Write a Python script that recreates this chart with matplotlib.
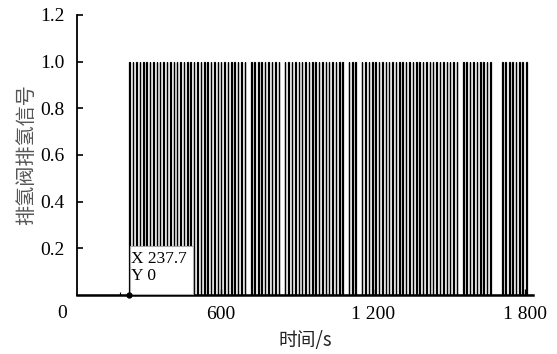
import numpy as np
import matplotlib
matplotlib.use("Agg")
import matplotlib.pyplot as plt
from matplotlib.patches import Rectangle
from matplotlib.ticker import FixedLocator

# ---- data: rising-edge times (s) of purge pulses ----
seg_a = [237.7, 251, 264, 278, 291, 304, 318, 331, 345, 358, 371, 385, 398, 412,
         425, 438, 452, 465, 479, 492, 505, 519, 532, 546, 559, 572, 586, 599,
         613, 626, 639, 653, 666, 680, 694]
seg_b = [719, 732, 746, 759, 773, 786, 800, 813, 827]
seg_c = [852, 865, 879, 892, 906, 919, 932, 946, 959, 973, 986, 999, 1013,
         1026, 1040, 1053, 1066, 1079]
seg_d = [1104, 1117, 1131]
seg_e = [1156, 1169, 1183, 1196, 1209, 1223, 1236, 1250, 1263, 1276, 1290,
         1303, 1317, 1330, 1343, 1357, 1370, 1384, 1397, 1410, 1424, 1437,
         1451, 1464, 1477, 1491, 1504, 1518, 1531]
seg_f = [1556, 1569, 1583, 1596, 1610, 1623, 1636, 1650, 1663]
seg_g = [1711, 1724, 1738, 1751, 1765, 1778, 1791, 1805]
pulse_width = 2.5          # s
signal_high = 1.0
t_start, t_end = 0, 1840

y_ticks = [0.2, 0.4, 0.6, 0.8, 1.0, 1.2]
y_tick_labels = ["0.2", "0.4", "0.6", "0.8", "1.0", "1.2"]
x_ticks = [600, 1200, 1800]
x_tick_labels = ["600", "1 200", "1 800"]
x_minor = [200, 400, 800, 1000, 1400, 1600]
tip_x, tip_y = 237.7, 0

rises = seg_a + seg_b + seg_c + seg_d + seg_e + seg_f + seg_g

# build step signal
t = [t_start]
y = [0]
for r in rises:
    t += [r, r, r + pulse_width, r + pulse_width]
    y += [0, signal_high, signal_high, 0]
t.append(t_end)
y.append(0)

plt.rcParams['font.family'] = ['Liberation Serif', 'Noto Sans CJK SC']
fig = plt.figure(figsize=(5.57, 3.54), dpi=100)
ax = fig.add_axes([0.138, 0.1667, 0.819, 0.791])

ax.plot(t, y, color='black', linewidth=0.9, solid_joinstyle='miter')

ax.set_xlim(30, 1833)
ax.set_ylim(0, 1.2)

ax.spines['top'].set_visible(False)
ax.spines['right'].set_visible(False)
ax.spines['left'].set_linewidth(1.3)
ax.spines['bottom'].set_linewidth(1.8)

ax.set_yticks(y_ticks)
ax.set_yticklabels(y_tick_labels)
ax.set_xticks(x_ticks)
ax.set_xticklabels(x_tick_labels)
ax.xaxis.set_minor_locator(FixedLocator(x_minor))
ax.tick_params(axis='y', which='major', direction='in', length=4,
               width=1.2, labelsize=14, pad=9)
ax.tick_params(axis='x', which='major', direction='in', length=4,
               width=1.0, labelsize=14, pad=8)
ax.tick_params(axis='x', which='minor', direction='in', length=2, width=0.8)

# origin label
fig.text(62 / 557, 1 - 313 / 354, "0", fontsize=14, ha='center', va='center')

ax.set_xlabel("时间/s", fontsize=13.5, family=['Noto Sans CJK SC', 'Liberation Serif'],
              labelpad=5, color='#222222')
ax.set_ylabel("排氢阀排氢信号", fontsize=14.5, family=['Noto Sans CJK SC'],
              color='#555555', labelpad=2)

# data tip
rect = Rectangle((tip_x + 3.5, 0.004), 246, 0.206, facecolor='white',
                 edgecolor='#aaaaaa', linewidth=0.8, zorder=4)
ax.add_patch(rect)
ax.plot([tip_x], [tip_y], 'o', color='black', markersize=3.5, zorder=6,
        clip_on=False)
ax.text(tip_x + 8, 0.188, f"X {tip_x}\nY {tip_y}", fontsize=12.5, va='top',
        ha='left', zorder=5, linespacing=1.05)

fig.savefig("out.png", dpi=100)
